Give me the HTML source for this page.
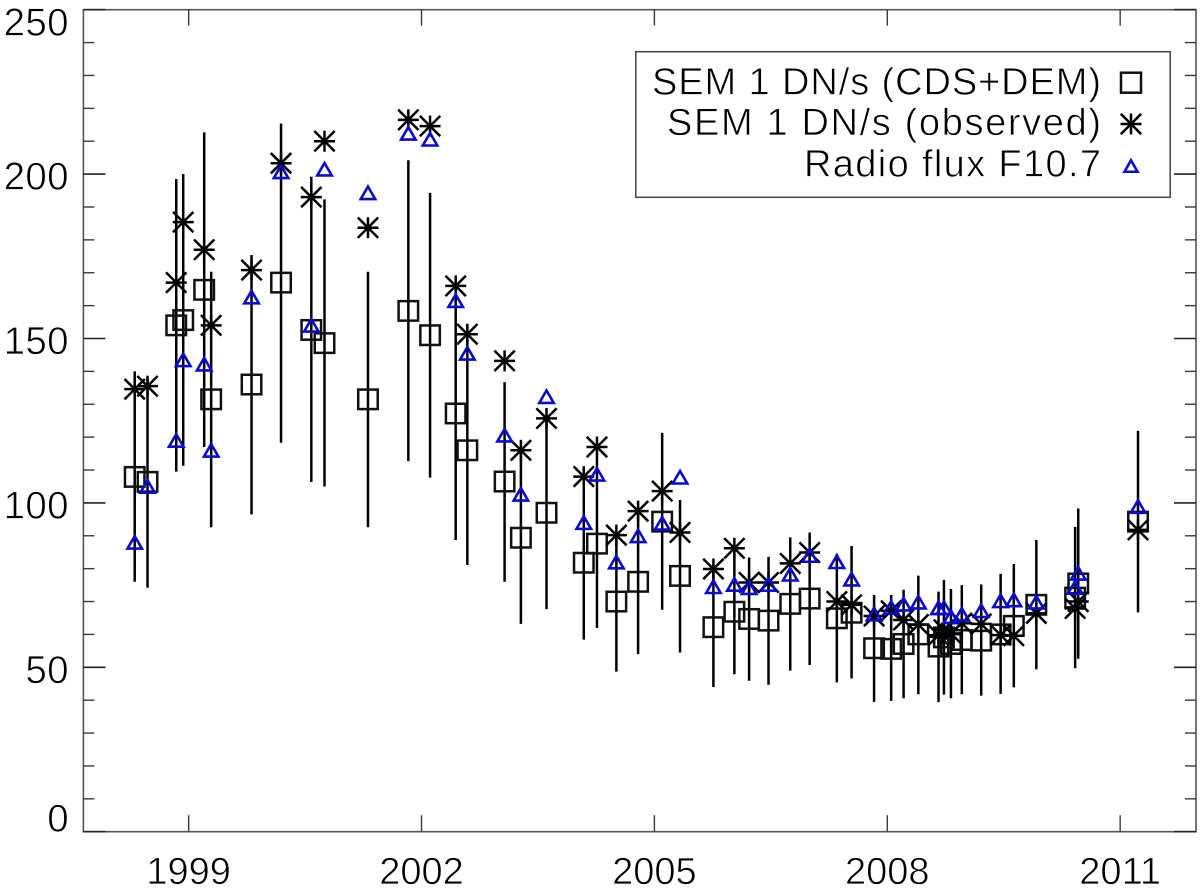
<!DOCTYPE html>
<html lang="en">
<head>
<meta charset="utf-8">
<title>SEM 1 DN/s and radio flux F10.7</title>
<style>
html,body{margin:0;padding:0;background:#fff;}
svg{display:block;}
text{font-family:"Liberation Sans",sans-serif;fill:#000;stroke:#fff;stroke-width:0.7px;}
</style>
</head>
<body>
<svg id="chart" xmlns="http://www.w3.org/2000/svg" width="1200" height="890" viewBox="0 0 1200 890"></svg>
<script>
const years = [1998.305,1998.47,1998.84,1998.93,1999.20,1999.29,1999.81,2000.19,2000.58,2000.75,2001.31,2001.83,2002.11,2002.44,2002.59,2003.07,2003.28,2003.61,2004.09,2004.26,2004.51,2004.79,2005.10,2005.33,2005.76,2006.03,2006.22,2006.47,2006.75,2007.00,2007.35,2007.54,2007.83,2008.05,2008.21,2008.40,2008.66,2008.73,2008.82,2008.96,2009.21,2009.46,2009.63,2009.92,2010.42,2010.46,2011.23];
const modelValues = [107.9,106.4,154,155.6,164.8,131.5,136,167,152.6,148.6,131.5,158.4,151,127.2,116,106.5,89.4,97,81.8,87.6,70,76,94.3,77.8,62.2,66.9,64.7,64.2,69.3,70.9,64.9,66.6,55.8,55.6,57.1,60,56.3,59.1,57.1,58.3,58.1,60,62.6,69,71.2,75.5,94.3];
const observedValues = [134.6,135.5,167,185.4,177,154,170.8,203.3,193,210,183.7,216.5,214.6,166,151.3,143.2,116,125.7,108,117,90.2,97.5,103.6,91,79.9,86.2,75.8,75.8,81.6,84.9,70,69,65.6,67.2,64.4,63,59.8,61.4,60.3,63.4,63.2,59.8,59.6,66.4,67.9,70,91.8];
const radioValues = [88,105,119,143.5,142.2,116,162.6,200.7,154,201.5,194.3,212.4,210.6,161.5,145.5,120.6,102.6,132.3,94,108.7,82,90,93.8,107.8,74.5,75.2,74.2,75.2,78.3,84,82.1,76.8,66.2,68.2,69.2,69.8,68.1,68.1,65.4,66.1,67.2,70.2,70.5,69.8,74.3,78.6,98.9];
const errorHigh = [140,138,198.5,200,212.7,170.3,175.4,215.4,199.2,192.3,170.3,204.2,194.3,165.4,150.8,136.7,116,126,106,114,91,98.8,121.3,100.9,80,87,83.4,83.6,89.5,91,84.5,86.9,72,72,73.6,77.9,73,76.6,73.8,75,75.2,78.4,81.4,88.7,92.7,98.3,121.9];
const errorLow = [76,74.2,109.5,111.3,117,92.6,96.5,118.3,106.4,105,92.6,112.7,107.7,88.7,81.1,76,63.2,67.7,58.4,62,48.7,54,67.5,54.5,44,47.9,45.9,44.7,49,50.7,45.4,46.6,39.5,39.8,40.6,41.8,39.4,41.7,40.6,41.8,41.4,41.9,43.9,49.4,49.7,52.6,66.7];
const yTickValues = [0,50,100,150,200,250];
const yMinorValues = [10,20,30,40,60,70,80,90,110,120,130,140,160,170,180,190,210,220,230,240];
const xTickValues = [1999,2002,2005,2008,2011];
const legendLabels = ["SEM 1 DN/s (CDS+DEM)","SEM 1 DN/s (observed)","Radio flux F10.7"];

const NS = "http://www.w3.org/2000/svg";
const svg = document.getElementById("chart");
const plot = {left:83.4,right:1196,top:9.7,bottom:831.7};
const xDomain = [1997.644,2011.977];
const yDomain = [0,250];
function xScale(v){return plot.left+(v-xDomain[0])/(xDomain[1]-xDomain[0])*(plot.right-plot.left);}
function yScale(v){return plot.bottom-(v-yDomain[0])/(yDomain[1]-yDomain[0])*(plot.bottom-plot.top);}
function mk(tag,attrs,parent){
  const el=document.createElementNS(NS,tag);
  for(const k in attrs){el.setAttribute(k,attrs[k]);}
  (parent||svg).appendChild(el);
  return el;
}
function group(name){
  const g=mk("g",{});
  
  
  return g;
}
function line(parent,x1,y1,x2,y2,color,w){
  return mk("line",{x1:x1,y1:y1,x2:x2,y2:y2,stroke:color,"stroke-width":w},parent);
}
const axisColor="#3a3a3a";

/* frame */
const frame=mk("rect",{x:plot.left,y:plot.top,width:plot.right-plot.left,height:plot.bottom-plot.top,fill:"none",stroke:"#555","stroke-width":1.6});



/* y axis */
const yAxis=group("y-axis");
yMinorValues.forEach(function(v){
  const y=yScale(v);
  line(yAxis,plot.left,y,plot.left+11,y,axisColor,1.4);
  line(yAxis,plot.right-11,y,plot.right,y,axisColor,1.4);
});
yTickValues.forEach(function(v){
  const y=yScale(v);
  line(yAxis,plot.left,y,plot.left+22,y,"#222",1.6);
  line(yAxis,plot.right-22,y,plot.right,y,"#222",1.6);
  const off = v===yDomain[0] ? 0 : (v===yDomain[1] ? 26 : 15.5);
  const t=mk("text",{x:69,y:y+off,"text-anchor":"end","font-size":38.5,"letter-spacing":0.4},yAxis);
  t.textContent=String(v);
  
  
});

/* x axis */
const xAxis=group("x-axis");
xTickValues.forEach(function(v){
  const x=xScale(v);
  line(xAxis,x,plot.top,x,plot.top+16,axisColor,1.4);
  line(xAxis,x,plot.bottom-16.5,x,plot.bottom,axisColor,1.4);
  const t=mk("text",{x:x,y:884,"text-anchor":"middle","font-size":38},xAxis);
  t.textContent=String(v);
  
  
});

/* marker drawing */
function drawSquare(parent,x,y,s){
  return mk("rect",{x:x-s/2,y:y-s/2,width:s,height:s,fill:"none",stroke:"#111","stroke-width":2.5},parent);
}
function drawStar(parent,x,y,r){
  const g=mk("g",{fill:"none",stroke:"#000","stroke-width":2.5},parent);
  const d=r*0.97;
  line(g,x-d,y-d,x+d,y+d,"#000",2.5);
  line(g,x-d,y+d,x+d,y-d,"#000",2.5);
  line(g,x-r,y,x+r,y,"#000",2.5);
  line(g,x,y-r,x,y+r,"#000",2.5);
  return g;
}
function drawTriangle(parent,x,y,w,h){
  const pts=[(x-w/2)+","+(y+h/2),(x+w/2)+","+(y+h/2),x+","+(y-h/2)].join(" ");
  return mk("polygon",{points:pts,fill:"none",stroke:"#0a0ad2","stroke-width":2.6},parent);
}

/* error bars */
const errGroup=group("error-bars");
years.forEach(function(yr,i){
  const x=xScale(yr);
  const b=line(errGroup,x,yScale(errorHigh[i]),x,yScale(errorLow[i]),"#000",2.5);
  
  
});

/* squares */
const sqGroup=group("series-cds-dem");
years.forEach(function(yr,i){
  const m=drawSquare(sqGroup,xScale(yr),yScale(modelValues[i]),19.5);
  
  
});

/* stars */
const starGroup=group("series-observed");
years.forEach(function(yr,i){
  const m=drawStar(starGroup,xScale(yr),yScale(observedValues[i]),10.5);
  
  
});

/* triangles */
const triGroup=group("series-radio-flux");
years.forEach(function(yr,i){
  const m=drawTriangle(triGroup,xScale(yr),yScale(radioValues[i]),14.5,12.5);
  
  
});

/* legend */
const legend=group("legend");
const box=mk("rect",{x:635.8,y:51.7,width:534.4,height:145.6,fill:"#fff",stroke:"#444","stroke-width":1.5},legend);


const legendBaselines=[94.3,135,176.7];
const legendLengths=[449,434,297];
legendLabels.forEach(function(label,i){
  const t=mk("text",{x:1101,y:legendBaselines[i],"text-anchor":"end","font-size":38,textLength:legendLengths[i],lengthAdjust:"spacing"},legend);
  t.textContent=label;
  
  
});
const ls=drawSquare(legend,1131,82.7,20);


const la=drawStar(legend,1131,124,10.5);


const lt=drawTriangle(legend,1131,166,13,11.5);


</script>
</body>
</html>
